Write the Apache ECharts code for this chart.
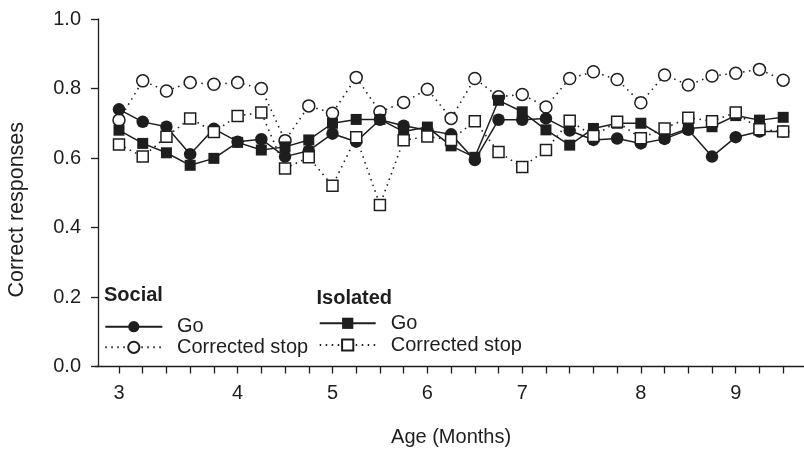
<!DOCTYPE html>
<html><head><meta charset="utf-8">
<script src="https://cdn.jsdelivr.net/npm/echarts@6/dist/echarts.min.js"></script>
<style>html,body{margin:0;padding:0;background:#fff}#c{width:804px;height:449px}</style>
</head><body><div id="c"></div>
<script>
// weekly sessions (week index from start at 3 months)
const weeks = [0,1,2,3,4,5,6,7,8,9,10,11,12,13,14,15,16,17,18,19,20,21,22,23,24,25,26,27,28];
const axisWeeks = ['-1','0','1','2','3','4','5','6','7','8','9','10','11','12','13','14','15','16','17','18','19','20','21','22','23','24','25','26','27','28','29'];
const tickWeeks = ['0','5','9','13','17','22','26'];
const tickLabels = ['3','4','5','6','7','8','9'];

const socialGo = [0.740,0.704,0.690,0.611,0.684,0.647,0.654,0.604,0.621,0.670,0.647,0.710,0.693,0.680,0.668,0.594,0.710,0.710,0.714,0.679,0.652,0.656,0.642,0.655,0.681,0.604,0.660,0.676,0.676];
const socialStop = [0.709,0.822,0.793,0.817,0.812,0.817,0.800,0.650,0.750,0.729,0.832,0.733,0.760,0.798,0.714,0.829,0.776,0.783,0.747,0.829,0.848,0.826,0.759,0.839,0.810,0.836,0.844,0.855,0.824];
const isoGo = [0.680,0.642,0.615,0.579,0.599,0.645,0.623,0.632,0.652,0.700,0.711,0.711,0.676,0.689,0.635,0.602,0.766,0.733,0.681,0.637,0.685,0.700,0.700,0.660,0.685,0.690,0.722,0.709,0.717];
const isoStop = [0.639,0.604,0.661,0.714,0.675,0.721,0.731,0.570,0.602,0.520,0.660,0.465,0.651,0.662,0.652,0.706,0.617,0.574,0.623,0.707,0.663,0.704,0.657,0.685,0.716,0.706,0.731,0.683,0.676];

const FONT = '"Liberation Sans", Arial, Helvetica, sans-serif';
const INK = '#1e1e1e';
function pairs(vals){ return weeks.map((w,i)=>[axisWeeks.indexOf(String(w)), vals[i]]); }

const chart = echarts.init(document.getElementById('c'), null, {renderer:'canvas'});
const dotted = [1.5, 4.5];
chart.setOption({
  animation: false,
  backgroundColor: '#fff',
  textStyle: {fontFamily: FONT, color: INK},
  grid: {left: 95.28, right: -2.9, top: 19, bottom: 82.5, containLabel: false, outerBoundsMode: 'none'},
  title: [
    {text: 'Social', left: 104, top: 285.5, padding: 0, textStyle: {fontFamily: FONT, fontSize: 20, fontWeight: 'bold', color: INK}},
    {text: 'Isolated', left: 316.5, top: 288.5, padding: 0, textStyle: {fontFamily: FONT, fontSize: 20, fontWeight: 'bold', color: INK}}
  ],
  legend: [
    {data: ['Social Go','Social Corrected stop'], orient: 'vertical', left: 104.3, top: 316.7, padding: 0,
     itemWidth: 57, itemHeight: 14, itemGap: 0.6, selectedMode: false,
     formatter: n => n.replace('Social ', ''),
     textStyle: {fontFamily: FONT, fontSize: 20, color: INK, padding: [0,0,0,9.7]}},
    {data: ['Isolated Go','Isolated Corrected stop'], orient: 'vertical', left: 318.7, top: 313.3, padding: 0,
     itemWidth: 56, itemHeight: 14, itemGap: 1.7, selectedMode: false,
     formatter: n => n.replace('Isolated ', ''),
     textStyle: {fontFamily: FONT, fontSize: 20, color: INK, padding: [0,0,0,10]}}
  ],
  xAxis: {
    type: 'category', data: axisWeeks, boundaryGap: false,
    name: 'Age (Months)', nameLocation: 'middle', nameGap: 61,
    nameTextStyle: {fontFamily: FONT, fontSize: 20, color: INK},
    axisLine: {lineStyle: {color: INK, width: 1.3}},
    axisTick: {show: true, inside: false, length: 7, lineStyle: {color: INK, width: 1.3},
      interval: (i) => i !== 0 && i !== axisWeeks.length - 1, alignWithLabel: true},
    axisLabel: {margin: 17, fontFamily: FONT, fontSize: 20, color: INK,
      interval: (i, v) => tickWeeks.indexOf(v) >= 0,
      formatter: (v) => { const k = tickWeeks.indexOf(v); return k >= 0 ? tickLabels[k] : ''; }},
    splitLine: {show: false}
  },
  yAxis: {
    type: 'value', min: 0, max: 1, interval: 0.2, offset: -2.72,
    name: 'Correct responses', nameLocation: 'middle', nameGap: 70, nameRotate: 90,
    nameTextStyle: {fontFamily: FONT, fontSize: 21.5, color: INK, padding: [0, 34, 0, 0]},
    axisLine: {show: true, lineStyle: {color: INK, width: 1.3}},
    axisTick: {show: true, inside: false, length: 7, lineStyle: {color: INK, width: 1.3}},
    axisLabel: {margin: 17, fontFamily: FONT, fontSize: 20, color: INK, formatter: v => v.toFixed(1)},
    splitLine: {show: false}
  },
  series: [
    {name: 'Social Corrected stop', type: 'line', data: pairs(socialStop), symbol: 'circle', symbolSize: 12,
     showAllSymbol: true, itemStyle: {color: '#fff', borderColor: INK, borderWidth: 1.5},
     lineStyle: {color: INK, width: 1.6, type: dotted}, emphasis: {disabled: true}},
    {name: 'Social Go', type: 'line', data: pairs(socialGo), symbol: 'circle', symbolSize: 12.5,
     showAllSymbol: true, itemStyle: {color: INK, borderColor: INK, borderWidth: 0},
     lineStyle: {color: INK, width: 1.5, type: 'solid'}, emphasis: {disabled: true}},
    {name: 'Isolated Go', type: 'line', data: pairs(isoGo), symbol: 'rect', symbolSize: 11,
     showAllSymbol: true, itemStyle: {color: INK, borderColor: INK, borderWidth: 0},
     lineStyle: {color: INK, width: 1.5, type: 'solid'}, emphasis: {disabled: true}},
    {name: 'Isolated Corrected stop', type: 'line', data: pairs(isoStop), symbol: 'rect', symbolSize: 11,
     showAllSymbol: true, itemStyle: {color: '#fff', borderColor: INK, borderWidth: 1.5},
     lineStyle: {color: INK, width: 1.6, type: dotted}, emphasis: {disabled: true}}
  ]
});
</script></body></html>
